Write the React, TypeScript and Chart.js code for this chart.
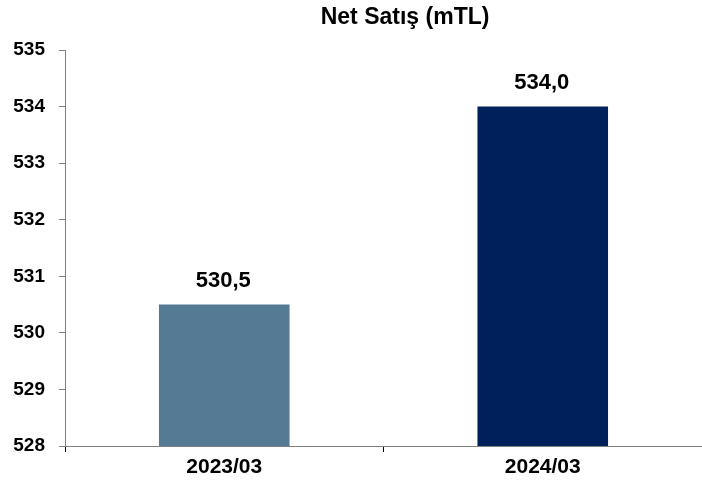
import React, { useEffect, useRef } from "react";
import { Chart, registerables } from "chart.js";

Chart.register(...registerables);

const title = "Net Satış (mTL)";
const categories = ["2023/03", "2024/03"];
const values = [530.5, 534.0];
const barColors = ["#547b93", "#00205b"];
const yMin = 528;
const yMax = 535;

const fmt = (v: number) => v.toFixed(1).replace(".", ",");
const FONT = "Arial, 'Liberation Sans', sans-serif";

export default function App() {
  const ref = useRef<HTMLCanvasElement | null>(null);
  useEffect(() => {
    if (!ref.current) return;
    const labelPlugin = {
      id: "labels",
      afterDatasetsDraw(chart: any) {
        const ctx = chart.ctx;
        ctx.save();
        ctx.font = `bold 22px ${FONT}`;
        ctx.fillStyle = "#000";
        ctx.textAlign = "center";
        ctx.textBaseline = "middle";
        const meta = chart.getDatasetMeta(0);
        meta.data.forEach((bar: any, i: number) => {
          ctx.fillText(fmt(values[i]), bar.x - 1, bar.y - 24);
        });
        ctx.font = `bold 23px ${FONT}`;
        ctx.fillText(title, chart.width * 0.577, 18);
        ctx.restore();
      },
    };
    const chart = new Chart(ref.current, {
      type: "bar",
      data: {
        labels: categories,
        datasets: [
          {
            data: values,
            backgroundColor: barColors,
            borderWidth: 0,
            barPercentage: 0.41,
            categoryPercentage: 1,
          },
        ],
      },
      plugins: [labelPlugin],
      options: {
        animation: false,
        responsive: false,
        maintainAspectRatio: false,
        layout: { padding: { top: 50, left: 0, right: 0, bottom: 0 } },
        plugins: {
          legend: { display: false },
          title: { display: false },
          tooltip: { enabled: false },
        },
        scales: {
          x: {
            afterFit: (s: any) => {
              s.height = 40;
            },
            grid: {
              drawOnChartArea: false,
              drawTicks: true,
              tickLength: 6,
              color: "#000",
            },
            border: { color: "#808080", width: 1 },
            ticks: {
              color: "#000",
              padding: 3,
              font: { family: FONT, size: 21, weight: "bold" },
            },
          },
          y: {
            min: yMin,
            max: yMax,
            afterFit: (s: any) => {
              s.width = 65;
            },
            grid: {
              drawOnChartArea: false,
              drawTicks: true,
              tickLength: 6,
              color: "#808080",
            },
            border: { color: "#808080", width: 1 },
            ticks: {
              stepSize: 1,
              color: "#000",
              padding: 14,
              font: { family: FONT, size: 19, weight: "bold" },
            },
          },
        },
      },
    });
    return () => chart.destroy();
  }, []);
  return (
    <div style={{ position: "absolute", left: 0, top: 0, width: 702, height: 486, background: "#fff" }}>
      <canvas ref={ref} width={702} height={486} style={{ width: 702, height: 486 }} />
    </div>
  );
}
